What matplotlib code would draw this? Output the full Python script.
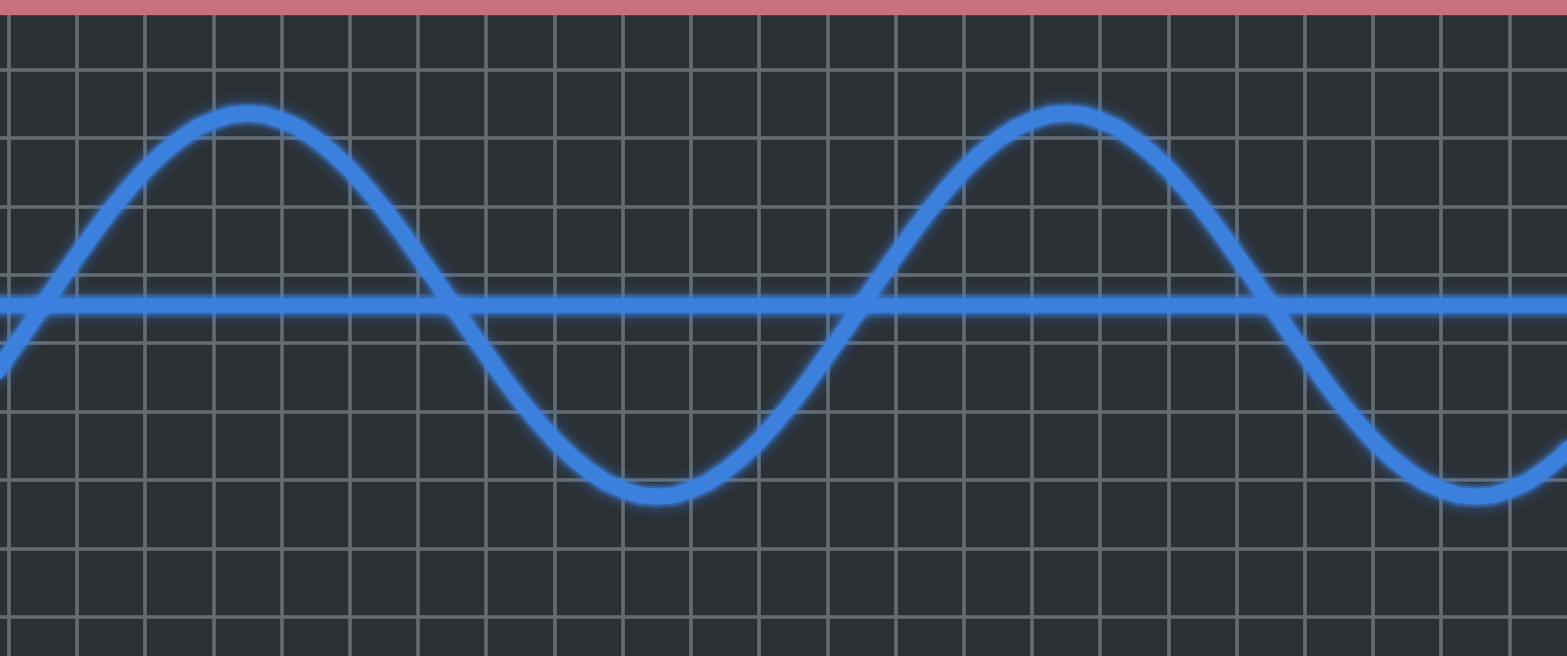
#!/usr/bin/env python3

import numpy as np
import matplotlib
matplotlib.use('Agg')
import matplotlib.pyplot as plt

# screen readings, in graticule divisions (period is about 12 div)
t = np.arange(-0.25, 23.01, 0.25)
volts = [-1.07, -0.72, -0.37,
         0.00, 0.37, 0.72, 1.07, 1.40, 1.70, 1.98, 2.22, 2.42, 2.59, 2.70, 2.78,
         2.80, 2.78, 2.70, 2.59, 2.42, 2.22, 1.98, 1.70, 1.40, 1.07, 0.72, 0.37,
         0.00, -0.37, -0.72, -1.07, -1.40, -1.70, -1.98, -2.22, -2.42, -2.59, -2.70, -2.78,
         -2.80, -2.78, -2.70, -2.59, -2.42, -2.22, -1.98, -1.70, -1.40, -1.07, -0.72, -0.37,
         0.00, 0.37, 0.72, 1.07, 1.40, 1.70, 1.98, 2.22, 2.42, 2.59, 2.70, 2.78,
         2.80, 2.78, 2.70, 2.59, 2.42, 2.22, 1.98, 1.70, 1.40, 1.07, 0.72, 0.37,
         0.00, -0.37, -0.72, -1.07, -1.40, -1.70, -1.98, -2.22, -2.42, -2.59, -2.70, -2.78,
         -2.80, -2.78, -2.70, -2.59, -2.42, -2.22, -1.98]

baseline_t = [-1.0, 24.0]
baseline_v = [0.0, 0.0]

x_grid = list(range(0, 23))
y_grid = list(range(0, 9))

BASE = 4.56   # where 0 V sits on the screen (divisions from bottom line)

BG = '#2b3034'
GRID = '#646c73'
TRACE = '#3d82e2'
PINK = '#c8707f'

f = plt.figure(figsize=(15.67, 6.56), dpi=100)
f.patch.set_facecolor(BG)
ax = f.add_axes([0, 0, 1, 1])
ax.set_facecolor(BG)

ax.set_xlim(-0.132, 22.84)
ax.set_ylim(-0.57, 9.02)

ax.set_xticks(x_grid)
ax.set_yticks(y_grid)
ax.tick_params(length=0, labelbottom=False, labelleft=False)
for s in ax.spines.values():
    s.set_visible(False)
ax.grid(True, color=GRID, lw=2.6)
ax.set_axisbelow(True)

v = np.array(volts) + BASE
bv = np.array(baseline_v) + BASE

# glow, then core
for lw, a in [(32, 0.05), (24, 0.10), (18, 0.25), (14.5, 0.45)]:
    ax.plot(baseline_t, bv, color=TRACE, lw=lw, alpha=a, solid_capstyle='round')
    ax.plot(t, v, color=TRACE, lw=lw, alpha=a, solid_joinstyle='round', solid_capstyle='round')
ax.plot(baseline_t, bv, color=TRACE, lw=10.5, alpha=0.95)
ax.plot(t, v, color=TRACE, lw=11.5, alpha=0.95, solid_joinstyle='round')

ax.axhspan(8.82, 9.2, color=PINK, zorder=5)

f.savefig('out.png', dpi=100, facecolor=BG)
